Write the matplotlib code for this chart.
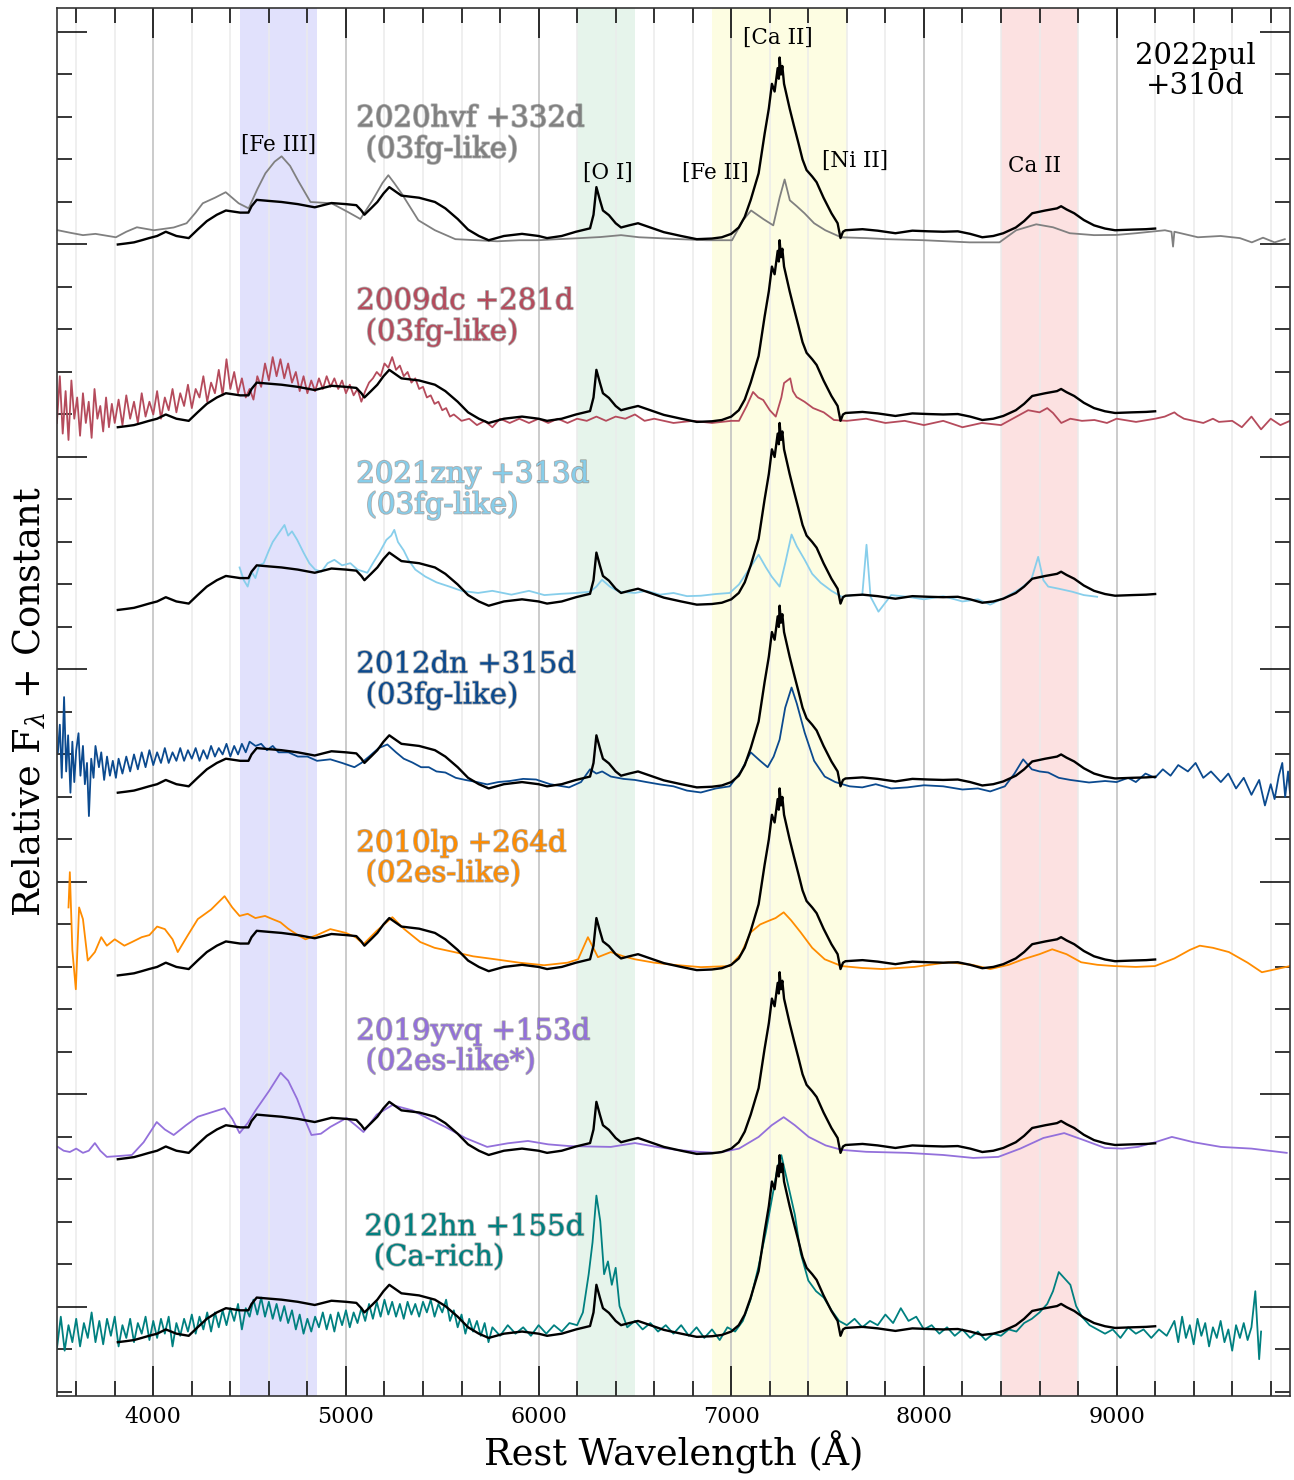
import numpy as np
import matplotlib.pyplot as plt
import matplotlib.patheffects as pe
from matplotlib.ticker import MultipleLocator

plt.rcParams['font.family'] = 'DejaVu Serif'
plt.rcParams['mathtext.fontset'] = 'dejavuserif'

# 2022pul +310d (black template, repeated in every panel)
pul_wave = [3816, 3860, 3900, 3940, 3978, 4020, 4065, 4120, 4184, 4230, 4278, 4330, 4377, 4451,
            4494, 4510, 4537, 4600, 4666, 4750, 4838, 4925, 5000, 5054, 5080, 5096, 5130, 5163,
            5195, 5225, 5288, 5380, 5462, 5516, 5580, 5634, 5690, 5741, 5820, 5914, 6000, 6044,
            6120, 6194, 6267, 6285, 6300, 6318, 6334, 6365, 6400, 6428, 6470, 6516, 6580, 6650,
            6740, 6821, 6900, 6951, 7000, 7039, 7070, 7101, 7142, 7173, 7195, 7211, 7225, 7241,
            7247, 7251, 7258, 7265, 7274, 7303, 7325, 7349, 7370, 7391, 7420, 7443, 7479, 7520,
            7552, 7567, 7580, 7593, 7681, 7760, 7852, 7940, 8023, 8100, 8176, 8240, 8303, 8360,
            8412, 8477, 8520, 8562, 8630, 8691, 8712, 8740, 8780, 8830, 8883, 8940, 8992, 9080,
            9153, 9200]
pul_flux = [-0.02, -0.015, -0.01, 0.0, 0.01, 0.02, 0.04, 0.02, 0.01, 0.05, 0.09, 0.12, 0.14, 0.13,
            0.13, 0.16, 0.19, 0.185, 0.18, 0.17, 0.155, 0.175, 0.17, 0.165, 0.14, 0.12, 0.15, 0.18,
            0.22, 0.25, 0.21, 0.20, 0.18, 0.15, 0.10, 0.05, 0.02, 0.0, 0.02, 0.03, 0.02, 0.01,
            0.02, 0.04, 0.056, 0.12, 0.25, 0.19, 0.14, 0.118, 0.08, 0.06, 0.07, 0.08, 0.06, 0.038,
            0.02, 0.005, 0.008, 0.014, 0.03, 0.06, 0.11, 0.19, 0.315, 0.50, 0.62, 0.736, 0.70, 0.81,
            0.76, 0.86, 0.78, 0.82, 0.736, 0.62, 0.54, 0.456, 0.38, 0.33, 0.30, 0.273, 0.20, 0.127,
            0.08, 0.01, 0.04, 0.047, 0.052, 0.045, 0.033, 0.045, 0.042, 0.04, 0.042, 0.03, 0.014, 0.02,
            0.033, 0.06, 0.09, 0.127, 0.14, 0.15, 0.16, 0.145, 0.127, 0.095, 0.07, 0.055, 0.047, 0.05,
            0.052, 0.055]

# 2020hvf +332d
hvf_wave = [3505, 3570, 3635, 3700, 3806, 3860, 3915, 4003, 4106, 4173, 4220, 4257, 4320, 4376,
            4443, 4495, 4540, 4582, 4630, 4666, 4710, 4752, 4816, 4925, 5012, 5075, 5138, 5190,
            5220, 5250, 5289, 5376, 5462, 5568, 5680, 5785, 5900, 5997, 6100, 6215, 6320, 6428,
            6521, 6620, 6733, 6870, 7004, 7061, 7103, 7166, 7218, 7251, 7277, 7304, 7340, 7380,
            7430, 7488, 7570, 7700, 7808, 8000, 8237, 8392, 8479, 8583, 8670, 8757, 8883, 9000,
            9101, 9251, 9285, 9293, 9300, 9422, 9540, 9640, 9702, 9760, 9820, 9873]
hvf_flux = [0.047, 0.035, 0.024, 0.03, 0.014, 0.04, 0.061, 0.047, 0.06, 0.08, 0.13, 0.174, 0.20,
            0.226, 0.174, 0.15, 0.24, 0.315, 0.37, 0.395, 0.35, 0.28, 0.18, 0.174, 0.132, 0.10,
            0.188, 0.27, 0.306, 0.27, 0.22, 0.094, 0.047, 0.005, 0.0, -0.005, 0.0, 0.0, 0.005,
            0.01, 0.015, 0.024, 0.014, 0.01, 0.005, 0.0, 0.0, 0.094, 0.14, 0.10, 0.07, 0.20,
            0.286, 0.188, 0.16, 0.127, 0.08, 0.047, 0.014, 0.01, 0.005, 0.0, -0.01, -0.01, 0.047,
            0.075, 0.061, 0.033, 0.024, 0.025, 0.033, 0.047, 0.04, -0.03, 0.04, 0.014, 0.02, 0.01,
            -0.01, 0.012, -0.01, 0.005]

# 2009dc +281d
dc_wave = [3500, 3515, 3530, 3545, 3560, 3575, 3590, 3605, 3620, 3635, 3650, 3665, 3680, 3695,
           3710, 3725, 3740, 3755, 3770, 3785, 3800, 3820, 3840, 3860, 3880, 3900, 3920, 3940,
           3960, 3980, 4000, 4020, 4040, 4060, 4080, 4100, 4120, 4140, 4160, 4180, 4200, 4220,
           4240, 4260, 4280, 4300, 4320, 4340, 4360, 4380, 4400, 4420, 4440, 4460, 4480, 4500,
           4520, 4540, 4560, 4580, 4600, 4620, 4640, 4660, 4680, 4700, 4720, 4740, 4760, 4780,
           4800, 4820, 4840, 4860, 4880, 4900, 4920, 4940, 4960, 4980, 5000, 5020, 5040, 5060,
           5080, 5100, 5120, 5140, 5160, 5180, 5200, 5220, 5240, 5260, 5280, 5300, 5320, 5340,
           5360, 5380, 5400, 5420, 5440, 5460, 5480, 5500, 5520, 5540, 5560, 5600, 5640, 5680,
           5720, 5760, 5800, 5850, 5900, 5950, 6000, 6050, 6100, 6150, 6200, 6250, 6300, 6350,
           6400, 6450, 6500, 6550, 6600, 6700, 6800, 6900, 7000, 7040, 7080, 7113, 7140, 7166,
           7200, 7231, 7260, 7274, 7306, 7320, 7339, 7380, 7425, 7480, 7533, 7600, 7700, 7800,
           7900, 8000, 8100, 8200, 8300, 8400, 8480, 8541, 8600, 8640, 8670, 8713, 8760, 8820,
           8885, 8950, 9000, 9101, 9200, 9250, 9300, 9316, 9350, 9400, 9450, 9500, 9531, 9600,
           9650, 9700, 9750, 9800, 9850, 9900]
dc_flux = [0.00, 0.22, -0.05, 0.15, -0.08, 0.20, 0.02, 0.12, -0.06, 0.14, 0.00, 0.10, -0.07, 0.16,
           0.02, 0.08, -0.04, 0.12, -0.02, 0.09, 0.00, 0.11, -0.01, 0.13, 0.02, 0.10, 0.00, 0.14,
           0.03, 0.10, 0.04, 0.15, 0.02, 0.12, 0.06, 0.16, 0.05, 0.14, 0.08, 0.18, 0.07, 0.16,
           0.12, 0.22, 0.10, 0.19, 0.14, 0.25, 0.13, 0.30, 0.16, 0.24, 0.14, 0.21, 0.12, 0.16,
           0.11, 0.22, 0.17, 0.28, 0.20, 0.31, 0.22, 0.30, 0.21, 0.28, 0.19, 0.24, 0.15, 0.22,
           0.14, 0.20, 0.15, 0.21, 0.16, 0.22, 0.17, 0.21, 0.16, 0.20, 0.14, 0.18, 0.13, 0.16,
           0.10, 0.15, 0.19, 0.21, 0.24, 0.22, 0.28, 0.26, 0.31, 0.25, 0.27, 0.22, 0.24, 0.19,
           0.21, 0.16, 0.17, 0.12, 0.13, 0.09, 0.10, 0.06, 0.07, 0.03, 0.04, 0.01, 0.02, -0.01,
           0.01, -0.02, 0.02, 0.00, 0.02, 0.00, 0.02, 0.00, 0.02, 0.00, 0.02, 0.01, 0.03, 0.01,
           0.03, 0.02, 0.04, 0.01, 0.02, 0.00, 0.01, 0.00, 0.01, 0.01, 0.08, 0.146, 0.12, 0.108,
           0.06, 0.03, 0.12, 0.188, 0.21, 0.15, 0.122, 0.10, 0.07, 0.05, 0.014, 0.01, 0.02, 0.00,
           0.01, -0.01, 0.01, -0.02, 0.00, -0.01, 0.03, 0.06, 0.05, 0.07, 0.047, 0.0, 0.02, 0.01,
           0.014, 0.00, 0.02, 0.005, 0.02, 0.03, 0.05, 0.038, 0.02, 0.01, 0.00, 0.02, 0.005, 0.01,
           -0.02, 0.03, -0.03, 0.02, -0.01, 0.01]

# 2021zny +313d
zny_wave = [4448, 4470, 4490, 4510, 4530, 4550, 4573, 4600, 4620, 4650, 4681, 4700, 4720, 4747,
            4780, 4810, 4840, 4873, 4905, 4940, 4980, 5023, 5060, 5111, 5140, 5174, 5210, 5235,
            5251, 5270, 5300, 5324, 5360, 5412, 5470, 5537, 5600, 5686, 5760, 5859, 5950, 6030,
            6116, 6200, 6267, 6300, 6329, 6370, 6417, 6500, 6560, 6630, 6700, 6770, 6842, 6920,
            6992, 7040, 7080, 7142, 7180, 7210, 7251, 7280, 7313, 7340, 7381, 7420, 7464, 7520,
            7573, 7630, 7680, 7702, 7723, 7764, 7830, 7914, 8000, 8100, 8200, 8280, 8344, 8427,
            8500, 8557, 8593, 8620, 8645, 8700, 8769, 8830, 8899]
zny_flux = [0.18, 0.12, 0.09, 0.16, 0.13, 0.19, 0.20, 0.26, 0.30, 0.34, 0.38, 0.33, 0.35, 0.31,
            0.25, 0.20, 0.17, 0.16, 0.20, 0.216, 0.19, 0.20, 0.17, 0.155, 0.20, 0.25, 0.31, 0.33,
            0.357, 0.30, 0.26, 0.216, 0.17, 0.137, 0.11, 0.09, 0.07, 0.06, 0.07, 0.052, 0.07, 0.05,
            0.056, 0.06, 0.066, 0.09, 0.122, 0.09, 0.066, 0.06, 0.07, 0.052, 0.06, 0.045, 0.047,
            0.055, 0.06, 0.10, 0.155, 0.24, 0.18, 0.137, 0.09, 0.20, 0.335, 0.28, 0.216, 0.15,
            0.108, 0.07, 0.042, 0.05, 0.05, 0.287, 0.042, -0.028, 0.05, 0.042, 0.03, 0.045, 0.02,
            0.03, 0.005, 0.042, 0.08, 0.122, 0.23, 0.12, 0.09, 0.08, 0.066, 0.05, 0.042]

# 2012dn +315d
dn_wave = [3505, 3515, 3525, 3537, 3548, 3558, 3570, 3580, 3590, 3600, 3612, 3622, 3635, 3645,
           3656, 3666, 3678, 3690, 3700, 3718, 3730, 3745, 3760, 3775, 3790, 3806, 3820, 3840,
           3860, 3880, 3900, 3920, 3940, 3960, 3980, 4000, 4020, 4040, 4060, 4080, 4100, 4120,
           4140, 4160, 4180, 4200, 4220, 4240, 4260, 4280, 4300, 4320, 4340, 4360, 4380, 4400,
           4420, 4440, 4460, 4480, 4500, 4531, 4560, 4590, 4620, 4650, 4702, 4750, 4800, 4850,
           4919, 4980, 5044, 5080, 5120, 5170, 5215, 5260, 5300, 5345, 5390, 5430, 5470, 5516,
           5570, 5620, 5680, 5733, 5790, 5850, 5920, 5987, 6060, 6158, 6220, 6267, 6300, 6330,
           6375, 6440, 6500, 6560, 6630, 6700, 6770, 6842, 6920, 6992, 7050, 7101, 7150, 7189,
           7220, 7251, 7280, 7313, 7340, 7381, 7430, 7485, 7540, 7614, 7680, 7750, 7830, 7914,
           8000, 8100, 8200, 8280, 8344, 8420, 8470, 8515, 8560, 8600, 8645, 8700, 8760, 8857,
           8940, 9000, 9060, 9100, 9150, 9199, 9240, 9280, 9320, 9370, 9410, 9450, 9490, 9541,
           9580, 9620, 9660, 9700, 9740, 9770, 9800, 9820, 9842, 9860, 9875, 9890, 9900]
dn_flux = [0.17, 0.30, 0.05, 0.43, 0.08, 0.25, -0.02, 0.22, 0.03, 0.18, 0.26, 0.06, 0.20, 0.02,
           0.12, -0.13, 0.14, 0.05, 0.20, 0.10, 0.17, 0.04, 0.15, 0.06, 0.13, 0.05, 0.14, 0.07,
           0.15, 0.08, 0.16, 0.09, 0.17, 0.10, 0.18, 0.11, 0.17, 0.12, 0.19, 0.12, 0.17, 0.13,
           0.19, 0.13, 0.18, 0.14, 0.19, 0.13, 0.18, 0.14, 0.20, 0.15, 0.19, 0.16, 0.21, 0.15,
           0.20, 0.16, 0.21, 0.17, 0.22, 0.20, 0.21, 0.18, 0.20, 0.17, 0.17, 0.15, 0.15, 0.13,
           0.137, 0.12, 0.10, 0.12, 0.15, 0.19, 0.207, 0.17, 0.14, 0.122, 0.10, 0.10, 0.08, 0.075,
           0.05, 0.04, 0.03, 0.019, 0.03, 0.035, 0.045, 0.042, 0.02, 0.005, 0.03, 0.09, 0.07, 0.08,
           0.056, 0.045, 0.04, 0.03, 0.019, 0.01, -0.01, -0.019, 0.0, 0.01, 0.08, 0.17, 0.13, 0.10,
           0.15, 0.23, 0.38, 0.475, 0.40, 0.263, 0.13, 0.056, 0.03, 0.01, 0.005, 0.02, 0.0, 0.005,
           0.015, 0.01, -0.005, 0.0, -0.014, 0.01, 0.07, 0.137, 0.09, 0.08, 0.075, 0.05, 0.04, 0.028,
           0.035, 0.03, 0.05, 0.03, 0.07, 0.05, 0.09, 0.06, 0.11, 0.08, 0.12, 0.05, 0.08, 0.03,
           0.07, 0.00, 0.05, -0.03, 0.04, -0.08, 0.02, -0.05, 0.06, 0.12, -0.04, 0.08, -0.02]

# 2010lp +264d
lp_wave = [3560, 3567, 3580, 3598, 3615, 3635, 3660, 3697, 3730, 3759, 3800, 3850, 3889, 3940,
           3980, 4020, 4060, 4100, 4127, 4180, 4231, 4300, 4370, 4410, 4448, 4490, 4530, 4580,
           4619, 4660, 4700, 4750, 4790, 4850, 4919, 5000, 5050, 5091, 5160, 5241, 5300, 5386,
           5460, 5562, 5660, 5775, 5900, 6029, 6150, 6205, 6256, 6308, 6375, 6440, 6500, 6600,
           6700, 6842, 6992, 7050, 7101, 7150, 7189, 7230, 7272, 7310, 7360, 7420, 7485, 7573,
           7680, 7785, 7950, 8127, 8250, 8344, 8440, 8515, 8600, 8666, 8740, 8816, 8900, 8987,
           9100, 9199, 9300, 9380, 9432, 9500, 9583, 9680, 9754, 9830, 9900]
lp_flux = [0.30, 0.466, 0.10, -0.085, 0.30, 0.245, 0.05, 0.09, 0.16, 0.12, 0.15, 0.12, 0.137,
           0.16, 0.17, 0.21, 0.198, 0.15, 0.09, 0.17, 0.245, 0.29, 0.353, 0.30, 0.26, 0.27, 0.25,
           0.26, 0.245, 0.23, 0.20, 0.17, 0.15, 0.17, 0.198, 0.18, 0.16, 0.127, 0.19, 0.254, 0.20,
           0.137, 0.11, 0.09, 0.07, 0.056, 0.04, 0.028, 0.04, 0.056, 0.16, 0.066, 0.09, 0.07,
           0.056, 0.04, 0.03, 0.019, 0.024, 0.08, 0.183, 0.22, 0.235, 0.25, 0.277, 0.24, 0.183,
           0.11, 0.056, 0.024, 0.015, 0.01, 0.02, 0.042, 0.03, 0.01, 0.03, 0.056, 0.08, 0.103,
           0.08, 0.042, 0.03, 0.024, 0.02, 0.024, 0.06, 0.10, 0.12, 0.11, 0.09, 0.04, -0.005, 0.01,
           0.024]

# 2019yvq +153d
yvq_wave = [3505, 3535, 3567, 3600, 3635, 3665, 3697, 3725, 3759, 3820, 3889, 3950, 4018, 4060,
            4106, 4170, 4231, 4300, 4370, 4410, 4448, 4490, 4531, 4600, 4661, 4700, 4747, 4790,
            4821, 4870, 4919, 5003, 5050, 5091, 5160, 5241, 5345, 5430, 5516, 5620, 5733, 5840,
            5945, 6050, 6158, 6260, 6375, 6500, 6600, 6716, 6830, 6930, 7040, 7142, 7210, 7272,
            7330, 7402, 7490, 7573, 7700, 7914, 8100, 8256, 8386, 8500, 8620, 8728, 8830, 8940,
            9030, 9111, 9200, 9287, 9400, 9541, 9700, 9883]
yvq_flux = [0.038, 0.02, 0.014, 0.03, 0.01, 0.02, 0.056, 0.02, -0.009, -0.005, 0.0, 0.06, 0.155,
            0.12, 0.094, 0.14, 0.18, 0.20, 0.22, 0.17, 0.103, 0.15, 0.21, 0.30, 0.387, 0.35, 0.263,
            0.16, 0.094, 0.10, 0.132, 0.174, 0.14, 0.108, 0.19, 0.235, 0.21, 0.17, 0.132, 0.08,
            0.038, 0.055, 0.066, 0.05, 0.042, 0.04, 0.038, 0.056, 0.04, 0.024, 0.015, 0.01, 0.03,
            0.085, 0.14, 0.178, 0.14, 0.085, 0.045, 0.024, 0.015, 0.01, 0.0, -0.014, -0.009, 0.03,
            0.08, 0.103, 0.07, 0.033, 0.03, 0.038, 0.06, 0.085, 0.06, 0.038, 0.03, 0.01]

# 2012hn +155d
hn_wave = [3500, 3520, 3540, 3560, 3580, 3600, 3620, 3640, 3660, 3680, 3700, 3720, 3740, 3760,
           3780, 3800, 3820, 3840, 3860, 3880, 3900, 3920, 3940, 3960, 3980, 4000, 4020, 4040,
           4060, 4080, 4100, 4120, 4140, 4160, 4180, 4200, 4220, 4240, 4260, 4280, 4300, 4320,
           4340, 4360, 4380, 4400, 4420, 4440, 4460, 4480, 4500, 4520, 4540, 4560, 4580, 4600,
           4620, 4640, 4660, 4680, 4700, 4720, 4740, 4760, 4780, 4800, 4820, 4840, 4860, 4880,
           4900, 4920, 4940, 4960, 4980, 5000, 5020, 5040, 5060, 5080, 5100, 5120, 5140, 5160,
           5180, 5200, 5220, 5240, 5260, 5280, 5300, 5320, 5340, 5360, 5380, 5400, 5420, 5440,
           5460, 5480, 5500, 5520, 5540, 5560, 5580, 5600, 5620, 5640, 5660, 5680, 5700, 5720,
           5740, 5760, 5800, 5840, 5880, 5920, 5960, 6000, 6040, 6080, 6120, 6160, 6200, 6230,
           6260, 6280, 6300, 6320, 6340, 6360, 6380, 6400, 6420, 6440, 6460, 6500, 6540, 6580,
           6620, 6660, 6700, 6740, 6780, 6820, 6860, 6900, 6940, 6980, 7020, 7060, 7100, 7140,
           7180, 7210, 7240, 7260, 7280, 7300, 7330, 7360, 7400, 7440, 7480, 7520, 7560, 7600,
           7640, 7680, 7720, 7760, 7800, 7840, 7880, 7920, 7960, 8000, 8040, 8080, 8120, 8160,
           8200, 8240, 8280, 8320, 8360, 8400, 8440, 8480, 8520, 8560, 8600, 8640, 8670, 8700,
           8730, 8760, 8790, 8820, 8860, 8900, 8940, 8980, 9020, 9060, 9100, 9140, 9180, 9220,
           9260, 9300, 9320, 9340, 9360, 9380, 9400, 9420, 9440, 9460, 9480, 9500, 9520, 9540,
           9560, 9580, 9600, 9620, 9640, 9660, 9680, 9700, 9720, 9740, 9750]
hn_flux = [-0.05, 0.10, -0.06, 0.06, -0.02, 0.09, -0.04, 0.07, 0.00, 0.12, -0.02, 0.08, -0.03, 0.09,
           0.01, 0.10, -0.04, 0.06, 0.00, 0.09, -0.02, 0.07, 0.02, 0.10, -0.01, 0.08, 0.00, 0.09,
           0.02, 0.10, -0.04, 0.07, 0.01, 0.09, 0.03, 0.11, 0.02, 0.10, 0.04, 0.12, 0.03, 0.12,
           0.05, 0.13, 0.06, 0.14, 0.08, 0.16, 0.04, 0.14, 0.10, 0.18, 0.11, 0.19, 0.10, 0.17,
           0.09, 0.16, 0.08, 0.15, 0.07, 0.13, 0.04, 0.11, 0.02, 0.09, 0.03, 0.10, 0.05, 0.12,
           0.04, 0.11, 0.03, 0.12, 0.06, 0.13, 0.05, 0.12, 0.07, 0.14, 0.08, 0.16, 0.09, 0.17,
           0.10, 0.18, 0.11, 0.17, 0.10, 0.16, 0.09, 0.17, 0.11, 0.16, 0.10, 0.17, 0.12, 0.18,
           0.10, 0.16, 0.12, 0.18, 0.08, 0.13, 0.05, 0.11, 0.02, 0.09, 0.03, 0.08, 0.01, 0.07,
           -0.02, 0.05, 0.01, 0.06, 0.02, 0.05, 0.01, 0.06, 0.02, 0.06, 0.03, 0.07, 0.06, 0.12,
           0.30, 0.45, 0.67, 0.55, 0.30, 0.36, 0.25, 0.33, 0.15, 0.10, 0.05, 0.08, 0.04, 0.07,
           0.03, 0.06, 0.02, 0.06, 0.01, 0.05, 0.00, 0.04, -0.01, 0.05, 0.03, 0.08, 0.18, 0.33,
           0.50, 0.65, 0.80, 0.86, 0.78, 0.70, 0.58, 0.40, 0.27, 0.22, 0.19, 0.13, 0.08, 0.06,
           0.09, 0.05, 0.08, 0.06, 0.11, 0.07, 0.14, 0.08, 0.10, 0.04, 0.06, 0.02, 0.05, 0.01,
           0.04, 0.00, 0.03, -0.01, 0.02, 0.01, 0.04, 0.03, 0.07, 0.09, 0.12, 0.16, 0.22, 0.31,
           0.28, 0.25, 0.15, 0.10, 0.06, 0.04, 0.02, 0.04, 0.00, 0.05, 0.02, 0.04, 0.00, 0.04,
           0.01, 0.08, -0.02, 0.10, 0.00, 0.06, -0.03, 0.09, 0.01, 0.07, -0.04, 0.05, 0.00, 0.08,
           -0.02, 0.04, -0.06, 0.06, 0.00, 0.07, -0.01, 0.05, 0.22, -0.10, 0.03]

comp_wave = [hvf_wave, dc_wave, zny_wave, dn_wave, lp_wave, yvq_wave, hn_wave]
comp_flux = [hvf_flux, dc_flux, zny_flux, dn_flux, lp_flux, yvq_flux, hn_flux]
comp_names = ['2020hvf +332d\n (03fg-like)', '2009dc +281d\n (03fg-like)',
              '2021zny +313d\n (03fg-like)', '2012dn +315d\n (03fg-like)',
              '2010lp +264d\n (02es-like)', '2019yvq +153d\n (02es-like*)',
              '2012hn +155d\n (Ca-rich)']
comp_colors = ['#808080', '#b54b5c', '#87ceeb', '#0b4a8f', '#ff8c00', '#9370db', '#008080']
offsets = [5.02, 4.16, 3.30, 2.44, 1.58, 0.715, -0.146]
label_x = [5054, 5054, 5054, 5054, 5054, 5054, 5096]
label_dy = [0.50, 0.50, 0.545, 0.51, 0.53, 0.51, 0.45]

bands = [(4450, 4850, '#e1e1fc'), (6200, 6500, '#e6f4eb'),
         (6900, 7600, '#fdfde2'), (8400, 8800, '#fce1e1')]
lines_txt = ['[Fe III]', '[O I]', '[Fe II]', '[Ca II]', '[Ni II]', 'Ca II']
lines_x = [4650, 6360, 6920, 7240, 7640, 8575]
lines_y = [5.468, 5.336, 5.336, 5.972, 5.393, 5.369]

fig = plt.figure(figsize=(12.94, 14.8), dpi=100)
ax = fig.add_axes([0.044, 0.0568, 0.9529, 0.9378])

for lo, hi, c in bands:
    ax.axvspan(lo, hi, color=c, zorder=0, lw=0)

for w, f, c, off in zip(comp_wave, comp_flux, comp_colors, offsets):
    ax.plot(w, np.array(f) + off, color=c, lw=1.3, zorder=2)
    ax.plot(pul_wave, np.array(pul_flux) + off, color='k', lw=1.7, zorder=3)

for name, c, off, lx, dy in zip(comp_names, comp_colors, offsets, label_x, label_dy):
    ax.text(lx, off + dy, name, color=c, fontsize=21, ha='left', va='center',
            linespacing=1.1, zorder=5,
            path_effects=[pe.withStroke(linewidth=1.3, foreground='k', alpha=0.3)])

for t, x, y in zip(lines_txt, lines_x, lines_y):
    ax.text(x, y, t, fontsize=15.5, ha='center', va='center', zorder=5)

ax.text(9407, 5.816, '2022pul\n+310d', fontsize=21, ha='center', va='center',
        linespacing=1.1, zorder=5)

ax.set_xlim(3500, 9900)
ax.set_ylim(-0.419, 6.113)
ax.xaxis.set_major_locator(MultipleLocator(1000))
ax.xaxis.set_minor_locator(MultipleLocator(200))
ax.yaxis.set_major_locator(MultipleLocator(1))
ax.yaxis.set_minor_locator(MultipleLocator(0.2))
ax.set_yticklabels([])
ax.grid(True, which='minor', axis='x', color='#ebebeb', lw=1.1)
ax.grid(True, which='major', axis='x', color='#bdbdbd', lw=1.1)
ax.set_axisbelow(True)
ax.tick_params(which='both', direction='in', top=True, right=True, width=1.1)
ax.tick_params(which='major', length=21.6, labelsize=16, pad=7)
ax.tick_params(which='minor', length=10.8)
ax.tick_params(axis='y', which='both', pad=0)
for s in ax.spines.values():
    s.set_linewidth(1.2)
    s.set_color('#333333')

ax.set_xlabel('Rest Wavelength (Å)', fontsize=26.5, labelpad=2)
ax.set_ylabel(r'Relative F$_\lambda$ + Constant', fontsize=26.5, labelpad=6)

fig.savefig('out.png', dpi=100)
